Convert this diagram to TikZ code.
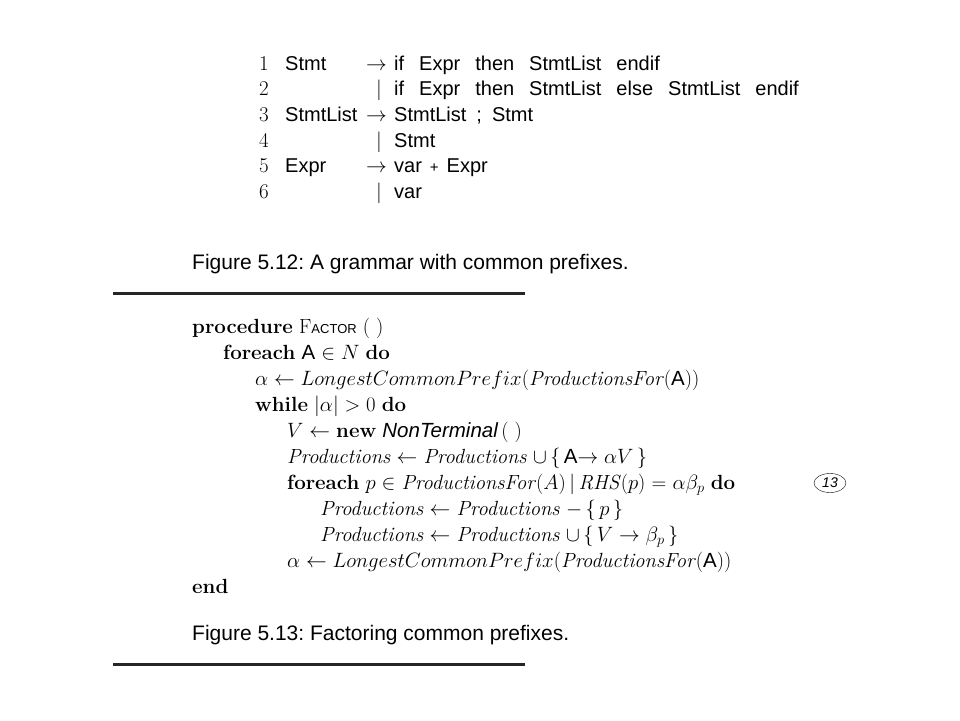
\documentclass[tikz,border=0pt]{standalone}
\usepackage{fontspec}
\setsansfont{Liberation Sans}
\usetikzlibrary{shapes.geometric}
\newcommand\gp{\hspace{15pt}}
\frenchspacing
\begin{document}
\begin{tikzpicture}[x=1pt,y=-1pt,
  gram/.style={anchor=base west,inner sep=0pt,font=\fontsize{20}{24}\selectfont\sffamily},
  num/.style={anchor=base west,inner sep=0pt,font=\fontsize{21}{24}\selectfont\rmfamily},
  code/.style={anchor=base west,inner sep=0pt,font=\fontsize{20.5}{24}\selectfont\rmfamily},
  figcap/.style={anchor=base west,inner sep=0pt,font=\fontsize{21}{24}\selectfont\sffamily},
  rule/.style={line width=3pt,black!85}]
\fill[white] (0,0) rectangle (960,720);
\useasboundingbox (0,0) rectangle (960,720);

\foreach \n/\y in {1/70,2/95.7,3/121.4,4/147,5/172.7,6/198.4}
  \node[num] (n\n) at (259,\y) {\n};
\node[gram] (l1) at (285,70) {Stmt};
\node[gram] (l3) at (285,121.4) {StmtList};
\node[gram] (l5) at (285,172.7) {Expr};
\foreach \y/\k in {70/1,121.4/3,172.7/5}
  \node[gram] (a\k) at (366,\y) {$\rightarrow$};
\foreach \y/\k in {95.7/2,147/4,198.4/6}
  \node[gram] (b\k) at (376,\y) {$|$};
\node[gram] (r1) at (394,70) {if\gp Expr\gp then\gp StmtList\gp endif};
\node[gram] (r2) at (394,95.7) {if\gp Expr\gp then\gp StmtList\gp else\gp StmtList\gp endif};
\node[gram] (r3) at (394,121.4) {StmtList\hspace{10pt};\hspace{10pt}Stmt};
\node[gram] (r4) at (394,147) {Stmt};
\node[gram] (r5) at (394,172.7) {var\hspace{8pt}{\fontsize{15}{15}\selectfont +}\hspace{8pt}Expr};
\node[gram] (r6) at (394,198.4) {var};

\node[figcap] (c12) at (192,269) {Figure 5.12: A grammar with common prefixes.};
\draw[rule] (113,293) -- (525,293);

\node[code] (p1) at (192,333) {\textbf{procedure} F{\sffamily\fontsize{13}{13}\selectfont ACTOR}\hspace{6pt}( )};
\node[code] (p2) at (223,359) {\textbf{foreach} {\sffamily A} $\in N$ \textbf{do}};
\node[code] (p3) at (255,385) {$\alpha \leftarrow LongestCommonPrefix$(\textit{ProductionsFor}({\sffamily A}))};
\node[code] (p4) at (255,411) {\textbf{while} $|\alpha| > 0$ \textbf{do}};
\node[code] (p5) at (287,437) {$V \leftarrow$ \textbf{new} {\sffamily\itshape NonTerminal}\,( )};
\node[code] (p6) at (287,463) {\textit{Productions} $\leftarrow$ \textit{Productions} $\cup$\,\{\,{\sffamily A}$\rightarrow\alpha V$\,\}};
\node[code] (p7) at (287,489) {\textbf{foreach} $p \in$ \textit{ProductionsFor}($A$)\,|\,\textit{RHS}($p$) = $\alpha\beta_p$ \textbf{do}};
\node[code] (p8) at (320,515) {\textit{Productions} $\leftarrow$ \textit{Productions} $-$\,\{\,$p$\,\}};
\node[code] (p9) at (320,541) {\textit{Productions} $\leftarrow$ \textit{Productions} $\cup$\,\{\,$V\rightarrow\beta_p$\,\}};
\node[code] (p10) at (287,567) {$\alpha \leftarrow LongestCommonPrefix$(\textit{ProductionsFor}({\sffamily A}))};
\node[code] (p11) at (192,593) {\textbf{end}};
\node[draw,ellipse,inner sep=1pt,minimum width=32pt,minimum height=19pt,font=\fontsize{14}{14}\selectfont\sffamily\itshape] (k13) at (830,483) {13};

\node[figcap] (c13) at (192,640) {Figure 5.13: Factoring common prefixes.};
\draw[rule] (113,664) -- (525,664);
\end{tikzpicture}
\end{document}
